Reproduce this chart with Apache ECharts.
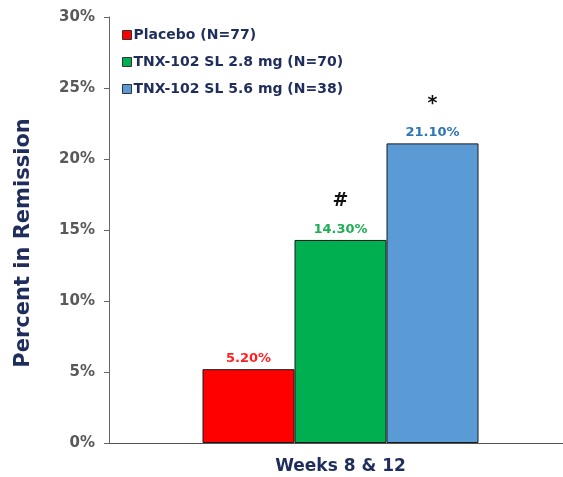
<!DOCTYPE html>
<html>
<head>
<meta charset="utf-8">
<script src="https://cdn.jsdelivr.net/npm/echarts@6/dist/echarts.min.js"></script>
<style>
html,body{margin:0;padding:0;background:#fff;}
#chart{width:563px;height:477px;}
</style>
</head>
<body>
<div id="chart"></div>
<script>
var categories = ['Weeks 8 & 12'];
var groupNames = ['Placebo (N=77)', 'TNX-102 SL 2.8 mg (N=70)', 'TNX-102 SL 5.6 mg (N=38)'];
var remission = [5.2, 14.3, 21.1]; // 百分比
var markers = ['', '#', '*']; // 显著性标记
var barColors = ['#ff0000', '#00b050', '#5b9bd5'];
var labelColors = ['#ff2020', '#1fae55', '#2e75b6'];

(function() {
	var myChart = echarts.init(document.getElementById('chart'))
	var series = groupNames.map(function(name, i) {
		return {
			name: name,
			type: 'bar',
			data: [remission[i]],
			barWidth: 92,
			barGap: 0,
			itemStyle: {
				color: barColors[i],
				borderColor: '#1a1a1a',
				borderWidth: 1
			},
			label: {
				show: true,
				position: 'top',
				distance: 4,
				formatter: function(p) {
					var val = '{val|' + remission[i].toFixed(2) + '%}'
					return markers[i] ? '{mk|' + markers[i] + '}\n' + val : val
				},
				rich: {
					val: { color: labelColors[i], fontSize: 13, fontWeight: 'bold', fontFamily: 'Verdana, DejaVu Sans' },
					mk: { color: '#111', fontSize: 19, fontWeight: 'bold', fontFamily: 'DejaVu Sans', lineHeight: 44 }
				}
			}
		}
	})
	var option = {
		animation: false,
		legend: {
			orient: 'vertical',
			left: 117,
			top: 23,
			itemWidth: 9,
			itemHeight: 9,
			itemGap: 13,
			icon: 'rect',
			textStyle: { color: '#1f2d5c', fontWeight: 'bold', fontSize: 14, fontFamily: 'Verdana, DejaVu Sans', padding: [0, 0, 0, -3] },
			data: groupNames.map(function(n, i) {
				return { name: n, itemStyle: { color: barColors[i], borderColor: '#333', borderWidth: 1 } }
			})
		},
		grid: {
			left: 109,
			right: -9,
			top: 17,
			bottom: 34,
			outerBoundsMode: 'none'
		},
		xAxis: {
			type: 'category',
			data: categories,
			axisTick: { show: false },
			axisLine: { lineStyle: { color: '#555', width: 1 } },
			axisLabel: { color: '#1f2d5c', fontWeight: 'bold', fontSize: 17, fontFamily: 'Verdana, DejaVu Sans', margin: 15 }
		},
		yAxis: {
			type: 'value',
			min: 0,
			max: 30,
			interval: 5,
			name: 'Percent in Remission',
			nameLocation: 'middle',
			nameGap: 75,
			nameTextStyle: { color: '#1f2d5c', fontWeight: 'bold', fontSize: 21, fontFamily: 'Verdana, DejaVu Sans', padding: [0, 26, 0, 0] },
			axisLine: { show: true, lineStyle: { color: '#666' } },
			axisTick: { show: true, length: 5, lineStyle: { color: '#666' } },
			splitLine: { show: false },
			axisLabel: { color: '#595959', fontWeight: 'bold', fontSize: 15, fontFamily: 'Verdana, DejaVu Sans', margin: 14, formatter: '{value}%' }
		},
		series: series
	};
	myChart.setOption(option);
})();
</script>
</body>
</html>
